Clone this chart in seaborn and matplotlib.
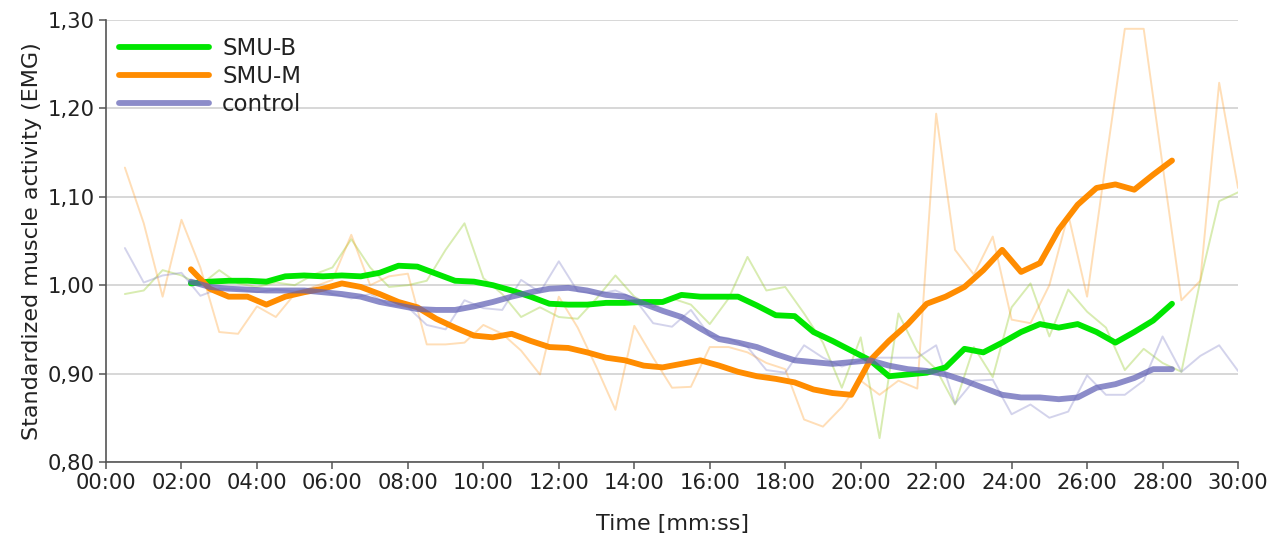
import numpy as np
import pandas as pd
import matplotlib
matplotlib.use("Agg")
import matplotlib.pyplot as plt
import seaborn as sns

# Raw 30-second samples (minutes 0.5 .. 30.0)
raw_minutes = np.arange(1, 61) * 0.5
smu_b_raw = [0.990, 0.994, 1.017, 1.011, 1.000, 1.017, 1.002, 0.998, 1.003, 1.000,
             1.012, 1.020, 1.052, 1.020, 0.998, 1.000, 1.005, 1.040, 1.070, 1.008,
             0.990, 0.964, 0.975, 0.964, 0.962, 0.985, 1.011, 0.987, 0.975, 0.985,
             0.978, 0.956, 0.985, 1.032, 0.994, 0.998, 0.968, 0.935, 0.884, 0.941,
             0.827, 0.968, 0.925, 0.905, 0.865, 0.930, 0.896, 0.975, 1.002, 0.942,
             0.995, 0.970, 0.952, 0.904, 0.928, 0.912, 0.902, 1.005, 1.095, 1.105]
smu_m_raw = [1.133, 1.070, 0.987, 1.074, 1.020, 0.947, 0.945, 0.976, 0.964, 0.990,
             0.998, 1.006, 1.057, 1.000, 1.010, 1.013, 0.933, 0.933, 0.935, 0.955,
             0.945, 0.926, 0.899, 0.987, 0.952, 0.907, 0.859, 0.954, 0.918, 0.884,
             0.885, 0.930, 0.930, 0.924, 0.912, 0.905, 0.848, 0.840, 0.862, 0.892,
             0.876, 0.892, 0.883, 1.194, 1.040, 1.012, 1.055, 0.961, 0.957, 1.000,
             1.080, 0.987, 1.140, 1.290, 1.290, 1.136, 0.983, 1.005, 1.229, 1.110]
control_raw = [1.042, 1.003, 1.011, 1.014, 0.988, 0.996, 0.995, 0.992, 0.995, 0.993,
               0.997, 0.990, 0.985, 0.990, 0.978, 0.975, 0.955, 0.950, 0.983, 0.974,
               0.972, 1.006, 0.992, 1.027, 0.993, 0.990, 0.994, 0.985, 0.957, 0.953,
               0.972, 0.943, 0.940, 0.930, 0.904, 0.901, 0.932, 0.918, 0.908, 0.915,
               0.918, 0.918, 0.918, 0.932, 0.866, 0.892, 0.893, 0.854, 0.865, 0.850,
               0.857, 0.898, 0.876, 0.876, 0.892, 0.942, 0.902, 0.920, 0.932, 0.903]

# Smoothed trend (minutes 2.25 .. 28.25)
smooth_minutes = 2.25 + 0.5 * np.arange(53)
smu_b_trend = [1.002, 1.004, 1.005, 1.005, 1.004, 1.010, 1.011, 1.010, 1.011, 1.010,
               1.014, 1.022, 1.021, 1.013, 1.005, 1.004, 1.000, 0.994, 0.987, 0.979,
               0.978, 0.978, 0.980, 0.980, 0.981, 0.981, 0.989, 0.987, 0.987, 0.987,
               0.977, 0.966, 0.965, 0.947, 0.937, 0.926, 0.915, 0.897, 0.899, 0.901,
               0.907, 0.928, 0.924, 0.935, 0.947, 0.956, 0.952, 0.956, 0.947, 0.935,
               0.947, 0.960, 0.979]
smu_m_trend = [1.018, 0.996, 0.987, 0.987, 0.978, 0.987, 0.992, 0.996, 1.002, 0.998,
               0.990, 0.981, 0.975, 0.962, 0.952, 0.943, 0.941, 0.945, 0.937, 0.930,
               0.929, 0.924, 0.918, 0.915, 0.909, 0.907, 0.911, 0.915, 0.909, 0.902,
               0.897, 0.894, 0.890, 0.882, 0.878, 0.876, 0.915, 0.937, 0.956, 0.979,
               0.987, 0.998, 1.017, 1.040, 1.015, 1.025, 1.063, 1.091, 1.110, 1.114,
               1.108, 1.125, 1.141]
control_trend = [1.004, 0.998, 0.996, 0.995, 0.994, 0.994, 0.994, 0.992, 0.990, 0.987,
                 0.981, 0.977, 0.973, 0.972, 0.972, 0.976, 0.981, 0.987, 0.992, 0.996,
                 0.997, 0.994, 0.989, 0.987, 0.979, 0.971, 0.964, 0.951, 0.939, 0.935,
                 0.930, 0.922, 0.915, 0.913, 0.911, 0.913, 0.915, 0.909, 0.905, 0.903,
                 0.899, 0.892, 0.884, 0.876, 0.873, 0.873, 0.871, 0.873, 0.884, 0.888,
                 0.895, 0.905, 0.905]

groups = ["SMU-B", "SMU-M", "control"]
colors = {"SMU-B": "#00e600", "SMU-M": "#ff8c00", "control": "#6060b4"}
raw_colors = {"SMU-B": "#9acd32", "SMU-M": "#ff9a20", "control": "#7070c0"}
raw_alpha = {"SMU-B": 0.38, "SMU-M": 0.32, "control": 0.3}
trend_alpha = {"SMU-B": 1.0, "SMU-M": 1.0, "control": 0.72}

raw = pd.DataFrame({"minute": np.tile(raw_minutes, 3),
                    "emg": smu_b_raw + smu_m_raw + control_raw,
                    "group": np.repeat(groups, len(raw_minutes))})
trend = pd.DataFrame({"minute": np.tile(smooth_minutes, 3),
                      "emg": smu_b_trend + smu_m_trend + control_trend,
                      "group": np.repeat(groups, len(smooth_minutes))})

sns.set_style("white")
plt.rcParams["font.family"] = ["DejaVu Sans"]
text_color = "#222222"

fig = plt.figure(figsize=(12.82, 5.37), dpi=100)
ax = fig.add_axes([0.0827, 0.1397, 0.8830, 0.8231])

for g in groups:
    sns.lineplot(data=raw[raw.group == g], x="minute", y="emg", ax=ax,
                 color=raw_colors[g], alpha=raw_alpha[g], linewidth=1.4,
                 legend=False, zorder=2)
for g in groups:
    sns.lineplot(data=trend[trend.group == g], x="minute", y="emg", ax=ax,
                 color=colors[g], alpha=trend_alpha[g], linewidth=4.2,
                 label=g, zorder=3, solid_capstyle="round")

ax.set_xlim(0, 30)
ax.set_ylim(0.80, 1.30)
ax.set_xticks(np.arange(0, 31, 2))
ax.set_xticklabels([f"{m:02d}:00" for m in range(0, 31, 2)])
yt = np.round(np.arange(0.80, 1.301, 0.10), 2)
ax.set_yticks(yt)
ax.set_yticklabels([f"{v:.2f}".replace(".", ",") for v in yt])

ax.grid(axis="y", color="#d4d4d4", linewidth=1.3, zorder=0)
ax.grid(axis="x", visible=False)
for s in ["top", "right"]:
    ax.spines[s].set_visible(False)
for s in ["left", "bottom"]:
    ax.spines[s].set_color("#555555")
    ax.spines[s].set_linewidth(1.2)

ax.tick_params(axis="both", direction="out", length=5, width=1.1,
               color="#555555", labelsize=15.2, labelcolor=text_color, pad=3)
ax.tick_params(axis="y", left=True)
ax.tick_params(axis="x", bottom=True)

ax.set_xlabel("Time [mm:ss]", fontsize=16, color=text_color, labelpad=15)
ax.set_ylabel("Standardized muscle activity (EMG)", fontsize=16,
              color=text_color, labelpad=4)

leg = ax.legend(loc="upper left", bbox_to_anchor=(0.0, 0.991), frameon=False,
                fontsize=16.5, handlelength=3.95, handletextpad=0.57,
                labelspacing=0.22, borderaxespad=0.15)
for h in leg.get_lines():
    h.set_linewidth(4.2)
for t in leg.get_texts():
    t.set_color(text_color)

fig.savefig("out.png", dpi=100)
